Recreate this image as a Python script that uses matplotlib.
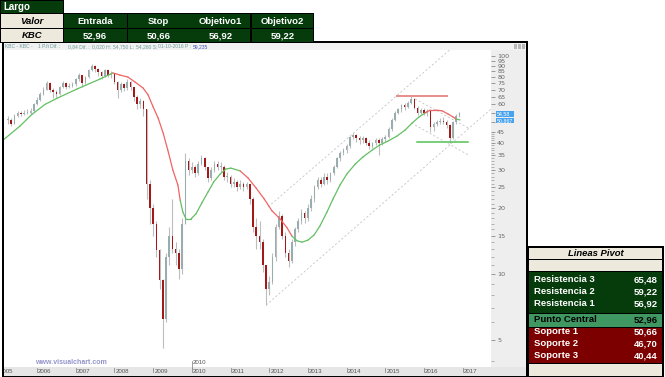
import numpy as np
import matplotlib.pyplot as plt
from matplotlib.patches import Rectangle
from matplotlib.ticker import FixedLocator, NullFormatter
import matplotlib.transforms as mtransforms

W, H = 665, 377

# monthly candles (KBC)
start = 2005.25
close = [51, 49, 53, 55, 54, 55, 55, 56, 60,
         63, 67, 70, 75, 70, 68, 67, 72, 75, 72, 73, 74,
         78, 82, 75, 80, 86, 90, 87, 84, 81, 86, 82, 83,
         76, 70, 74, 71, 76, 72, 65, 60, 62, 57, 26, 20,
         17, 12.9, 9.4, 6.2, 12, 15, 13, 12.5, 10.5, 17, 33, 30,
         31, 29, 32, 34, 31, 27.5, 30, 32, 31, 31, 28, 28,
         26, 26.5, 25, 26, 25, 26, 22, 16.5, 15, 14, 11, 8.5,
         9.2, 12, 16.5, 18.5, 15, 12.5, 11.5, 14, 16, 17.5, 19, 18,
         20, 22, 25, 27, 26, 28, 27, 29, 31, 34, 36, 37,
         38.5, 42.5, 43.5, 42, 41, 42, 40, 38.5, 40, 41, 40, 41.5,
         42.5, 46, 51, 55, 57, 59.5, 58.5, 61, 63.5, 58, 55, 56.5,
         55, 56, 47, 49, 50, 50.5, 50, 48, 42, 50, 53, 54.5]
high = [53, 52, 54, 56, 56, 56.5, 57, 57.5, 61,
        64.5, 68.5, 72, 77, 76, 71, 69.5, 73, 76.5, 76, 75, 76,
        79.5, 83.5, 82, 81, 87.5, 92, 91, 88, 85, 87.5, 87, 85,
        83, 77, 76, 75, 78, 77, 72, 66, 64, 63, 57, 27,
        21, 17.5, 13, 9.5, 12.5, 16.5, 22, 14, 13, 18, 36, 34,
        32.5, 31.5, 33, 35, 34.5, 31, 31, 33, 33, 32.5, 31.5, 29.5,
        28.5, 27.5, 27, 27, 26.5, 26.5, 26, 22.5, 18, 17.5, 14.5, 11,
        9.8, 12.5, 17, 19.5, 18.8, 15.5, 13, 14.5, 16.5, 18, 19.8, 19.5,
        21, 23, 25.5, 28, 28, 29, 29, 29.5, 31.5, 34.5, 36.5, 38,
        39.5, 43, 44.5, 44, 43, 43, 42.5, 41, 40.5, 42, 42, 42.5,
        43.5, 47, 52, 56, 58, 60.5, 61, 62, 65.5, 64, 59, 58,
        57.5, 57, 56.5, 50, 51, 52, 52.5, 51, 49, 50.5, 54, 55.5]
low = [49, 47.5, 49, 52.5, 53, 53.5, 54, 54, 55.5,
       59.5, 62, 66, 69.5, 68, 64, 65, 66, 71, 70.5, 71, 72,
       73, 77, 72, 74, 79, 85, 84, 81, 78, 80, 80, 79,
       74, 64, 68, 69, 70, 70, 62, 57, 58, 53, 22, 17,
       15, 12, 8.5, 4.6, 6, 11, 12.5, 11, 9.5, 10, 17, 28.5,
       29, 28, 28.5, 31.5, 30, 26.5, 27, 29.5, 30, 29.5, 27, 26.5,
       25, 25, 24, 24.5, 24, 24.5, 21, 15.5, 13, 13, 10.2, 7.2,
       8, 9, 11.5, 16, 14.5, 12, 10.8, 11.2, 13.5, 15.5, 17, 17.2,
       17.5, 19.5, 21.5, 24.5, 25, 25.5, 26, 26.5, 28.5, 30.5, 33, 35,
       36, 38, 41.5, 40.5, 39.5, 40, 39, 37.5, 38, 39, 35, 39,
       40.5, 42, 45.5, 50.5, 54, 55.5, 56.5, 57.5, 60, 57, 53.5, 54,
       53.5, 53, 45, 45.5, 47.5, 48.5, 48.5, 46.5, 40, 41.5, 49, 52.5]

# moving average, colour of the segment that starts at each point
ma_t = [2005.15, 2005.56, 2005.87, 2006.21, 2006.52, 2007.03, 2007.63, 2007.96,
        2008.14, 2008.35, 2008.53, 2008.74, 2008.87, 2009.0, 2009.13, 2009.26,
        2009.38, 2009.51, 2009.64, 2009.70, 2009.77, 2009.85, 2009.98, 2010.11,
        2010.26, 2010.42, 2010.57, 2010.73, 2010.88, 2011.01, 2011.25, 2011.45,
        2011.66, 2011.87, 2012.07, 2012.28, 2012.46, 2012.59, 2012.72, 2012.85,
        2013.0, 2013.16, 2013.31, 2013.49, 2013.65, 2013.83, 2014.01, 2014.22,
        2014.42, 2014.66, 2014.86, 2015.07, 2015.3, 2015.51, 2015.69, 2015.87,
        2016.03, 2016.16, 2016.31, 2016.47, 2016.62, 2016.75, 2016.83, 2016.93]
ma_v = [41.5, 47.7, 54, 60, 64, 70.5, 78.4, 83.6,
        81.8, 80, 76, 71.3, 66.3, 58.4, 51.9, 44.3,
        37, 30, 25.6, 21.8, 19.2, 17.9, 17.9, 18.9,
        21.2, 23.8, 26.5, 28.7, 30.3, 30.6, 29.7, 27.6,
        24.8, 22.1, 19.5, 17.9, 16.3, 14.9, 14.2, 14.0,
        14.3, 15.1, 16.6, 19.2, 22.1, 25.6, 28.8, 31.9,
        34.4, 37, 39.1, 40.7, 42.9, 45.7, 49.2, 52.5,
        54.8, 56.5, 56.5, 56, 54.2, 52.5, 51.3, 50.9]
ma_c = "gggggggr" "rrrrrrrr" "rrrggggg" "ggggggrr" "rrrrrggg" "gggggggg" "gggggggg" "rrrrrrgg"

# drawn levels and trend lines (date, price)
resist_line = ([2015.30, 2016.59], [65.48, 65.48])
support_line = ([2015.82, 2017.14], [40.44, 40.44])
channel_lines = [([2011.97, 2016.70], [20.3, 108]),
                 ([2011.92, 2017.75], [7.2, 57.5]),
                 ([2015.77, 2017.14], [63.5, 46.8]),
                 ([2015.77, 2017.14], [48.2, 35.2])]
last_close = "54,58"
last_ma = "50,867"

years = list(range(2005, 2018))
price_major = [5, 10, 15, 20, 25, 30, 35, 40, 45, 50, 55, 60, 65, 70, 75, 80, 85, 90, 95, 100]
price_minor = [4, 6, 7, 8, 9, 11, 12, 13, 14, 16, 17, 18, 19, 21, 22, 23, 24,
               26, 27, 28, 29, 31, 32, 33, 34, 36, 37, 38, 39, 41, 42, 43, 44]

table_head = ["Valor", "Entrada", "Stop", "Objetivo1", "Objetivo2"]
table_row = ["KBC", "52,96", "50,66", "56,92", "59,22"]
pivot_names = ["Resistencia 3", "Resistencia 2", "Resistencia 1", "Punto Central",
               "Soporte 1", "Soporte 2", "Soporte 3"]
pivot_vals = ["65,48", "59,22", "56,92", "52,96", "50,66", "46,70", "40,44"]

GREEN = "#063c0c"
BEIGE = "#ede9dc"
MIDGREEN = "#3f9762"
DRED = "#7c0000"
FONT = "Liberation Sans"

fig = plt.figure(figsize=(W / 100, H / 100), dpi=100)


def fx(x):
    return x / W


def fy(y):
    return 1 - y / H


def box(x0, y0, x1, y1, color, z=-1):
    fig.patches.append(Rectangle((fx(x0), fy(y1)), (x1 - x0) / W, (y1 - y0) / H,
                                 transform=fig.transFigure, facecolor=color,
                                 edgecolor="none", zorder=z))


def txt(x, y, s, **kw):
    kw.setdefault("family", FONT)
    kw.setdefault("va", "center")
    fig.text(fx(x), fy(y), s, **kw)


# chart window background
box(3, 42, 527, 376, "white", -3)
box(3, 43, 527, 50, "#f1f1f1", -2)
box(491, 50, 527, 367, "#eeeeee", -2)
box(490.5, 50, 491.3, 367, "#c8c8c8", -1)
box(3, 367, 527, 376, "#e6e6e6", -2)
box(3, 366.6, 527, 367.4, "#b0b0b0", -1)
# window frame
box(2, 41.5, 528, 43, "black", -1)
box(2, 41.5, 3.6, 377, "black", -1)
box(2, 375.6, 528, 377, "black", -1)
box(526.4, 41.5, 528, 377, "black", -1)

# header line
hdr = [(5, "KBC - KBC -", "#6b9b9b"), (38, "1 P.fi Dif. :", "#6b9b9b"), (68, "0,84 Dif. :", "#6b9b9b"),
       (92, "0,020 H:", "#6b9b9b"), (113, "54,750 L:", "#6b9b9b"), (136, "54,260 S:", "#6b9b9b"),
       (158, "01-10-2016 P :", "#6b9b9b"), (193, "59,235", "#4455bb")]
for x, s, c in hdr:
    txt(x, 46.5, s, fontsize=3.6, color=c)
for i in range(3):
    box(514 + 4 * i, 44, 517 + 4 * i, 48.5, "#b8b8b8", 0)

# main axes
ax = fig.add_axes([fx(4), fy(367), (491 - 4) / W, (367 - 50) / H])
ax.set_facecolor("white")
for s in ax.spines.values():
    s.set_visible(False)
ax.set_yscale("log")
ax.set_xlim(2005.147, 2017.731)
ax.set_ylim(3.745, 106.5)

t = start + np.arange(len(close)) / 12
c = np.array(close)
o = np.r_[c[0], c[:-1]]
up = c >= o
ax.vlines(t, low, high, color="#bdbdbd", lw=0.8, zorder=2)
body_lo = np.minimum(o, c)
body_h = np.maximum(np.abs(c - o), c * 0.01)
ax.bar(t[up], body_h[up], bottom=body_lo[up], width=0.042, color="#98aeae", zorder=3)
ax.bar(t[~up], body_h[~up], bottom=body_lo[~up], width=0.042, color="#a51818", zorder=3)

for i in range(len(ma_t) - 1):
    col = "#f06464" if ma_c[i] == "r" else "#63bf63"
    ax.plot(ma_t[i:i + 2], ma_v[i:i + 2], color=col, lw=0.9, zorder=4, solid_capstyle="round")

for xs, ys in channel_lines:
    ax.plot(xs, ys, color="#c4c4c4", lw=0.6, ls=(0, (2.5, 2.5)), zorder=1)
ax.plot(*resist_line, color="#e88c8c", lw=1.4, zorder=4)
ax.plot(*support_line, color="#55c255", lw=1.1, zorder=4)

ax.yaxis.tick_right()
ax.set_yticks(price_major)
ax.set_yticklabels([str(p) if p not in (50, 55) else "" for p in price_major])
ax.yaxis.set_minor_locator(FixedLocator(price_minor))
ax.yaxis.set_minor_formatter(NullFormatter())
ax.tick_params(axis="y", which="major", length=3, width=0.5, color="#777777",
               labelsize=4.6, labelcolor="#666666", pad=1.5)
ax.tick_params(axis="y", which="minor", length=1.8, width=0.5, color="#999999")
ax.set_xticks([])

# last value boxes on the price scale
for y0, s in [(111, last_close), (117.5, last_ma)]:
    box(496, y0, 513.5, y0 + 5.8, "#48a3ee", 5)
    txt(497, y0 + 3, s, fontsize=3.8, color="white", zorder=6)

# year scale
bt = mtransforms.blended_transform_factory(ax.transData, fig.transFigure)
clip = mtransforms.TransformedBbox(mtransforms.Bbox.from_extents(fx(4), fy(376), fx(526), fy(367)),
                                   fig.transFigure)
for yr in years:
    fig.lines.append(plt.Line2D([yr, yr], [fy(368), fy(372)], transform=bt, color="#777777", lw=0.5))
    tx = fig.text(yr + 0.03, fy(371.5), str(yr), transform=bt, fontsize=4.4, color="#555555",
                  family=FONT, va="center", ha="left")
    tx.set_clip_box(clip)
    tx.set_clip_on(True)
fig.lines.append(plt.Line2D([2010, 2010], [fy(360.5), fy(368)], transform=bt, color="#777777", lw=0.5))
fig.text(2010.03, fy(363), "2010", transform=bt, fontsize=4.4, color="#555555", family=FONT,
         va="center", ha="left")

txt(35, 362.5, "www.visualchart.com", fontsize=5, color="#9494cc", weight="bold")

# signal table, top left
box(0, 0, 63.5, 13.5, "black", 0)
box(1, 1, 62.5, 12.5, GREEN, 1)
txt(3, 7, "Largo", fontsize=7, color="white", weight="bold", zorder=3)
cols = [(1, 62.5), (63.5, 126.5), (127.5, 189.5), (190.5, 250.5), (251.5, 313)]
box(0, 12.5, 314, 43, "black", 0)
for (x0, x1), h, r in zip(cols, table_head, table_row):
    first = x0 == 1
    for (y0, y1), s in [((13.5, 28), h), ((29, 42), r)]:
        box(x0, y0, x1, y1, BEIGE if first else GREEN, 1)
        txt((x0 + x1) / 2, (y0 + y1) / 2 + 0.5, s, fontsize=6.8, ha="center", weight="bold",
            style="italic" if first else "normal", color="black" if first else "white", zorder=3)

# pivot table, bottom right
box(527, 246, 664, 377, "black", 0)
box(529, 248, 662, 259, BEIGE, 1)
txt(595.5, 253.8, "Lineas Pivot", fontsize=6.8, ha="center", weight="bold", style="italic", zorder=3)
box(529, 260, 662, 270.5, BEIGE, 1)
box(529, 272, 662, 313, GREEN, 1)
box(529, 313.5, 662, 326.5, MIDGREEN, 1)
box(529, 327.5, 662, 363, DRED, 1)
box(529, 364, 662, 375.5, BEIGE, 1)
rows_y = [279.5, 291.5, 303.5, 320, 332, 344, 356]
for yy, n, v in zip(rows_y, pivot_names, pivot_vals):
    col = "black" if n == "Punto Central" else "white"
    txt(534, yy, n, fontsize=6.8, weight="bold", color=col, zorder=3)
    txt(658, yy, v, fontsize=6.8, weight="bold", color=col, ha="right", zorder=3)

fig.savefig("out.png", dpi=100)
